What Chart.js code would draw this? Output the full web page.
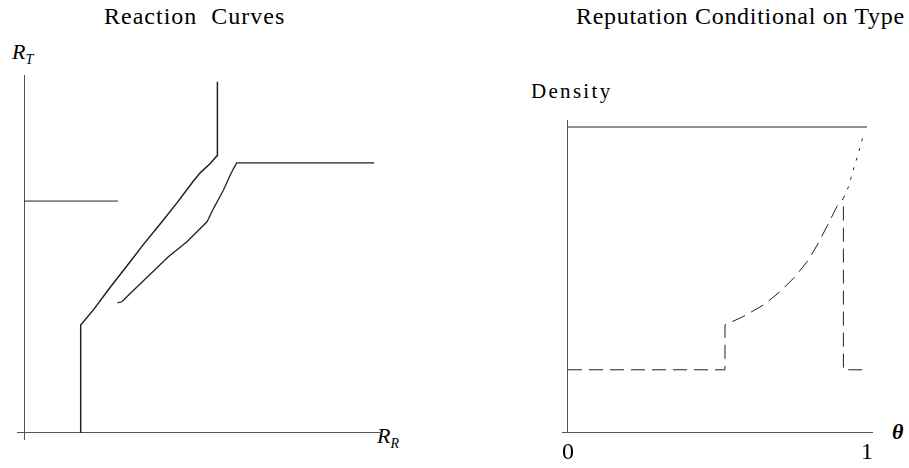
<!DOCTYPE html>
<html>
<head>
<meta charset="utf-8">
<script src="https://cdn.jsdelivr.net/npm/chart.js@4/dist/chart.umd.min.js"></script>
<style>
  body { margin: 0; background: #fff; width: 909px; height: 468px; position: relative; overflow: hidden; }
  .txt { position: absolute; font-family: "Liberation Serif", serif; color: #000; line-height: 1; white-space: pre; }
  canvas { position: absolute; }
</style>
</head>
<body>
<div class="txt" style="left:104px; top:4px; font-size:24px; letter-spacing:1px;">Reaction  Curves</div>
<div class="txt" style="left:576px; top:4px; font-size:24px; letter-spacing:0.7px;">Reputation Conditional on Type</div>
<div class="txt" style="left:12px; top:41px; font-size:22px; font-style:italic;">R<sub style="font-size:14px; vertical-align:-5px;">T</sub></div>
<div class="txt" style="left:377px; top:425px; font-size:22px; font-style:italic;">R<sub style="font-size:14px; vertical-align:-5px;">R</sub></div>
<div class="txt" style="left:531px; top:81px; font-size:21px; letter-spacing:2.3px;">Density</div>
<div class="txt" style="left:892px; top:421px; font-size:22px; font-style:italic; font-weight:bold;">θ</div>

<canvas id="reaction" width="365" height="365" style="left:17px; top:75px;"></canvas>
<canvas id="reputation" width="311" height="345" style="left:562px; top:120px;"></canvas>

<script>
// ---- left panel: reaction curves (R_R across, R_T up) ----
const flatRR = [0, 26.2];
const flatRT = [64.7, 64.7];
const upperRR = [15.7, 15.8, 19.4, 24.0, 28.7, 33.3, 38.0, 42.7, 47.3, 49.2, 52.0, 53.9, 54.0, 54.0];
const upperRT = [0, 30.0, 34.3, 40.5, 46.5, 52.5, 58.3, 64.2, 70.3, 72.6, 75.2, 77.4, 77.4, 98.1];
const lowerRR = [26.1, 27.3, 29.2, 40.3, 45.5, 51.1, 52.9, 55.7, 57.6, 58.5, 59.4, 97.8];
const lowerRT = [36.2, 36.5, 38.4, 49.1, 53.3, 58.9, 62.6, 67.8, 72.0, 73.8, 75.4, 75.4];

// ---- right panel: reputation density by type ----
const thetaTicks = [0, 1];
const flatTheta = [0, 1];
const flatDens = [1, 1];
const typeTheta = [0, 0.525, 0.525, 0.585, 0.653, 0.709, 0.759, 0.804, 0.837, 0.871, 0.899, 0.921];
const typeDens = [0.204, 0.204, 0.351, 0.378, 0.416, 0.46, 0.509, 0.564, 0.619, 0.684, 0.739, 0.766];
const dropTheta = [0.921, 0.921, 1];
const dropDens = [0.739, 0.204, 0.204];
const tailTheta = [0.921, 0.938, 0.954, 0.971, 0.988];
const tailDens = [0.766, 0.804, 0.859, 0.914, 0.974];

const AXIS = '#555';
const INK = '#222';

function pts(xs, ys) {
    return xs.map((x, i) => ({x: x, y: ys[i]}));
}

function series(xs, ys, dash, width) {
    return {data: pts(xs, ys),
            borderColor: INK,
            borderWidth: width || 1,
            borderDash: dash || [],
            pointRadius: 0,
            tension: 0,
            fill: false};
}

// only the zero line of each scale is drawn, it acts as the axis
function zeroAxis(extra) {
    return Object.assign({
        type: 'linear',
        border: { display: false },
        grid: {
            drawTicks: false,
            lineWidth: 1,
            color: ctx => (ctx.tick && ctx.tick.value === 0) ? AXIS : 'rgba(0,0,0,0)'
        },
        ticks: { display: false },
        afterBuildTicks: axis => { axis.ticks = [{value: 0}]; }
    }, extra);
}

const common = {
    responsive: false,
    devicePixelRatio: 1,
    animation: false,
    layout: { padding: 0 },
    plugins: { legend: { display: false }, tooltip: { enabled: false } }
};

new Chart(document.getElementById('reaction'), {
    type: 'line',
    data: {
        datasets: [series(flatRR, flatRT),
                   series(upperRR, upperRT, null, 1.5),
                   series(lowerRR, lowerRT, null, 1.3)]
    },
    options: Object.assign({}, common, {
        scales: {
            x: zeroAxis({min: -2, max: 100}),
            y: zeroAxis({min: -2.2, max: 100})
        }
    })
});

new Chart(document.getElementById('reputation'), {
    type: 'line',
    data: {
        datasets: [series(flatTheta, flatDens),
                   series(typeTheta, typeDens, [14, 7]),
                   series(dropTheta, dropDens, [14, 7]),
                   series(tailTheta, tailDens, [3, 7])]
    },
    options: Object.assign({}, common, {
        scales: {
            x: zeroAxis({
                min: -0.02, max: 1.02,
                ticks: {
                    display: true,
                    padding: 6,
                    color: '#000',
                    maxRotation: 0,
                    font: { family: 'Liberation Serif', size: 24 }
                },
                afterBuildTicks: axis => { axis.ticks = thetaTicks.map(v => ({value: v})); },
                afterFit: axis => {
                    axis.height = 33;
                    axis.paddingLeft = 0;
                    axis.paddingRight = 0;
                }
            }),
            y: zeroAxis({min: 0, max: 1.023})
        }
    })
});
</script>
</body>
</html>
